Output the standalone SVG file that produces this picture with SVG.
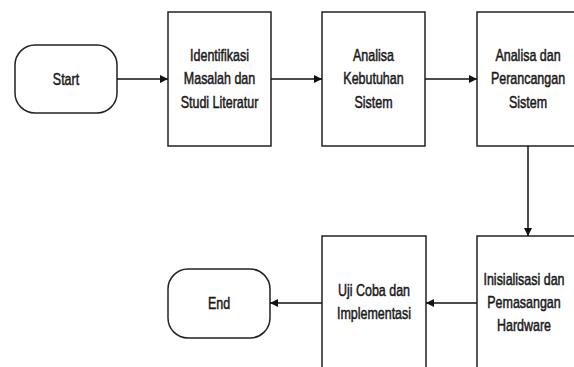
<svg xmlns="http://www.w3.org/2000/svg" width="574" height="367" viewBox="0 0 574 367">
<defs>
<marker id="ah" markerWidth="10" markerHeight="10" refX="9" refY="5" orient="auto" markerUnits="userSpaceOnUse">
<path d="M1,1 L9,5 L1,9 z" fill="#111"/>
</marker>
<style>
.box{fill:#fff;stroke:#222;stroke-width:1.5}
.t{font-family:"Liberation Sans",Arial,sans-serif;font-size:16px;fill:#1a1a1a;stroke:#1a1a1a;stroke-width:0.5;text-anchor:middle}
.c{fill:none;stroke:#111;stroke-width:1.5;marker-end:url(#ah)}
</style>
</defs>
<rect width="574" height="367" fill="#fff"/>
<g id="start">
<rect class="box" x="15" y="45" width="102" height="68" rx="20" ry="20"/>
<g transform="matrix(0.78 0 0 1 66 0)"><text class="t" x="0" y="85">Start</text></g>
</g>
<g id="identifikasi">
<rect class="box" x="168" y="12" width="103" height="134"/>
<g transform="matrix(0.78 0 0 1 219.5 0)">
<text class="t" x="0" y="61">Identifikasi</text>
<text class="t" x="0" y="84.5">Masalah dan</text>
<text class="t" x="0" y="108">Studi Literatur</text>
</g>
</g>
<g id="analisa-kebutuhan">
<rect class="box" x="322" y="12" width="103" height="134"/>
<g transform="matrix(0.78 0 0 1 373.5 0)">
<text class="t" x="0" y="61">Analisa</text>
<text class="t" x="0" y="84.5">Kebutuhan</text>
<text class="t" x="0" y="108">Sistem</text>
</g>
</g>
<g id="analisa-perancangan">
<rect class="box" x="477" y="12" width="103" height="134"/>
<g transform="matrix(0.78 0 0 1 528 0)">
<text class="t" x="0" y="61">Analisa dan</text>
<text class="t" x="0" y="84.5">Perancangan</text>
<text class="t" x="0" y="108">Sistem</text>
</g>
</g>
<g id="inisialisasi">
<rect class="box" x="477" y="236" width="103" height="140"/>
<g transform="matrix(0.78 0 0 1 524 0)">
<text class="t" x="0" y="285">Inisialisasi dan</text>
<text class="t" x="0" y="308">Pemasangan</text>
<text class="t" x="0" y="331">Hardware</text>
</g>
</g>
<g id="uji-coba">
<rect class="box" x="322" y="236" width="104" height="140"/>
<g transform="matrix(0.78 0 0 1 374 0)">
<text class="t" x="0" y="296.5">Uji Coba dan</text>
<text class="t" x="0" y="319">Implementasi</text>
</g>
</g>
<g id="end">
<rect class="box" x="168" y="269" width="102" height="69" rx="20" ry="20"/>
<g transform="matrix(0.78 0 0 1 219 0)"><text class="t" x="0" y="309.5">End</text></g>
</g>
<g id="connectors">
<line class="c" x1="117" y1="79" x2="168" y2="79"/>
<line class="c" x1="271" y1="79" x2="322" y2="79"/>
<line class="c" x1="425" y1="79" x2="477" y2="79"/>
<line class="c" x1="528" y1="146" x2="528" y2="236"/>
<line class="c" x1="477" y1="303" x2="426" y2="303"/>
<line class="c" x1="322" y1="303" x2="270" y2="303"/>
</g>
</svg>
